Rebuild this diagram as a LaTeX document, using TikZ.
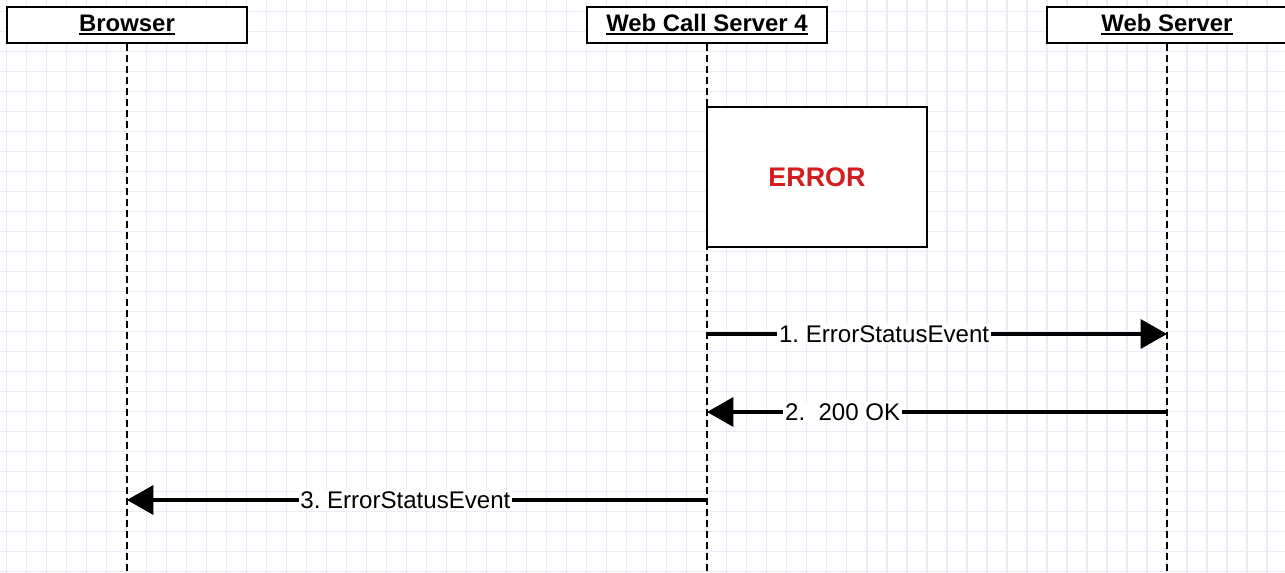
\documentclass[tikz,border=0pt]{standalone}
\usepackage{fontspec}
\setmainfont{Liberation Sans}
\usetikzlibrary{arrows.meta}
\definecolor{gridcol}{RGB}{236,236,248}
\definecolor{errred}{RGB}{210,30,30}
\newcommand{\ulhead}[1]{\setbox0\hbox{#1}\rlap{\rule[-2pt]{\wd0}{1.1pt}}\box0}
\frenchspacing

\tikzset{
  actor/.style={draw=black, line width=1.1pt, fill=white, inner sep=0pt,
    minimum width=4.8cm, minimum height=0.72cm,
    font=\fontsize{13.6}{16}\selectfont\bfseries},
  lifeline/.style={line width=0.85pt, dash pattern=on 4pt off 2.3pt},
  errbox/.style={draw=black, line width=1.1pt, fill=white,
    minimum width=4.4cm, minimum height=2.8cm,
    text=errred, font=\fontsize{15.3}{18}\selectfont\bfseries},
  msg/.style={line width=2pt, -{Triangle[length=15pt,width=16.5pt]}},
  msglabel/.style={fill=white, inner sep=1pt, font=\fontsize{13.7}{16}\selectfont},
  gridline/.style={gridcol, line width=0.9pt}
}

\begin{document}
\begin{tikzpicture}[x=0.02cm, y=-0.02cm]
  \useasboundingbox (0,0) rectangle (1285,573);
  \clip (0,0) rectangle (1285,573);
  \fill[white] (0,0) rectangle (1285,573);

  % background grid
  \foreach \gx in {0,...,64}
    \draw[gridline] (6.7+20*\gx,0) -- (6.7+20*\gx,573);
  \foreach \gy in {0,...,28}
    \draw[gridline] (0,11.7+20*\gy) -- (1285,11.7+20*\gy);

  % actors
  \node[actor] (browser) at (127,25) {\ulhead{Browser}};
  \node[actor] (wcs) at (707,25) {\ulhead{Web Call Server 4}};
  \node[actor] (websrv) at (1167,25) {\ulhead{Web Server}};

  % lifelines
  \coordinate (browser-end) at (browser |- 0,573);
  \coordinate (wcs-end) at (wcs |- 0,573);
  \coordinate (websrv-end) at (websrv |- 0,573);
  \draw[lifeline] (browser) -- (browser-end);
  \draw[lifeline] (wcs) -- (wcs-end);
  \draw[lifeline] (websrv) -- (websrv-end);

  \node[errbox] (error) at (817,177) {ERROR};

  % messages
  \coordinate (wcs-m1) at (wcs |- 0,334);
  \coordinate (websrv-m1) at (websrv |- 0,334);
  \coordinate (wcs-m2) at (wcs |- 0,412);
  \coordinate (websrv-m2) at (websrv |- 0,412);
  \coordinate (wcs-m3) at (wcs |- 0,500);
  \coordinate (browser-m3) at (browser |- 0,500);

  \draw[msg] (wcs-m1) -- node[msglabel, pos=0.385] {1. ErrorStatusEvent} (websrv-m1);
  \draw[msg] (websrv-m2) -- node[msglabel, pos=0.705] {2.\ \ 200 OK} (wcs-m2);
  \draw[msg] (wcs-m3) -- node[msglabel, pos=0.52] {3. ErrorStatusEvent} (browser-m3);
\end{tikzpicture}
\end{document}
